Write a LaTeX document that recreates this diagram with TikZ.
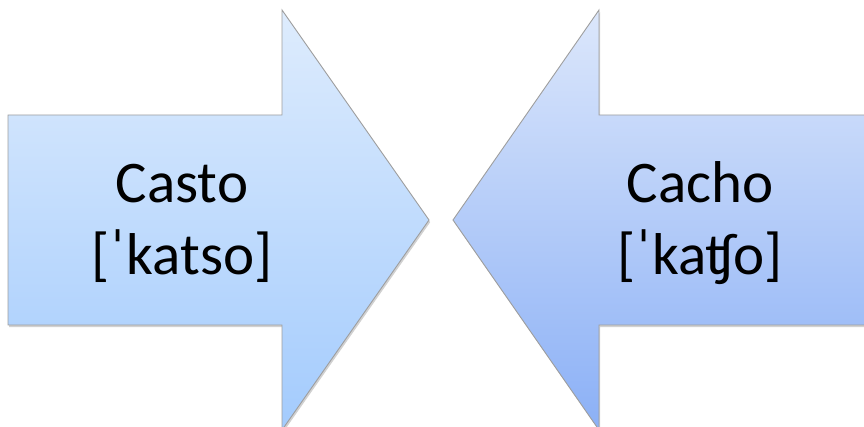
\documentclass[tikz,border=0pt]{standalone}
\usepackage{fontspec}
\setmainfont{Carlito}
\begin{document}
\begin{tikzpicture}[x=1pt,y=-1pt,
  arrowborder/.style={draw=black!38, line width=0.9pt, line join=miter},
  lbl/.style={font=\fontsize{59}{72}\selectfont, inner sep=0pt, anchor=base, text=black}]
\useasboundingbox (0,0) rectangle (864,427);
% shadows
\fill[black, opacity=0.18, shift={(1.2,2.2)}] (8,115) -- (282,115) -- (282,10) -- (429,220) -- (282,430) -- (282,325) -- (8,325) -- cycle;
\fill[black, opacity=0.18, shift={(1.2,2.2)}] (880,115) -- (599,115) -- (599,10) -- (453,220) -- (599,430) -- (599,325) -- (880,325) -- cycle;
% left arrow
\shade[arrowborder, top color={rgb,255:red,222;green,236;blue,253}, bottom color={rgb,255:red,163;green,203;blue,253}]
  (8,115) -- (282,115) -- (282,10) -- (429,220) -- (282,430) -- (282,325) -- (8,325) -- cycle;
% right arrow
\shade[arrowborder, top color={rgb,255:red,220;green,231;blue,251}, bottom color={rgb,255:red,139;green,176;blue,246}]
  (880,115) -- (599,115) -- (599,10) -- (453,220) -- (599,430) -- (599,325) -- (880,325) -- cycle;
% labels
\node[lbl] (casto) at (182,203) {Casto};
\node[lbl] (castoipa) at (182,275) {[ˈkatso]};
\node[lbl] (cacho) at (700,203) {Cacho};
\node[lbl] (cachoipa) at (700,275) {[ˈkaʧo]};
\end{tikzpicture}
\end{document}
